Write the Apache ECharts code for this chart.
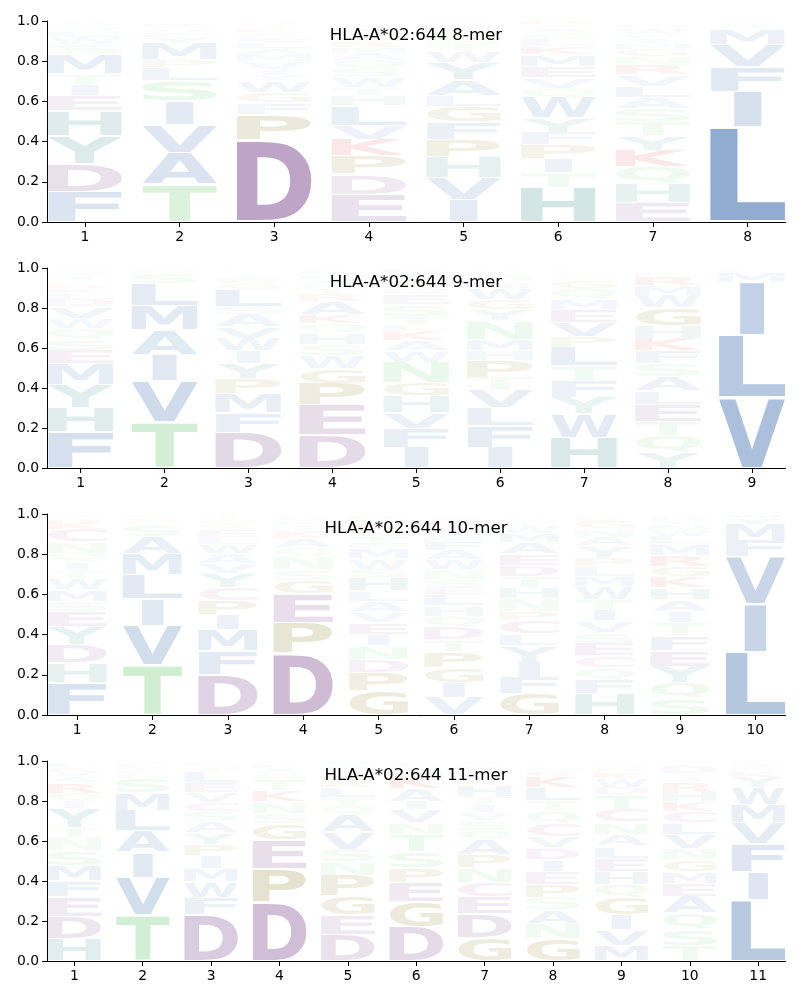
<!DOCTYPE html>
<html>
<head>
<meta charset="utf-8">
<script src="https://cdn.jsdelivr.net/npm/echarts@6/dist/echarts.min.js"></script>
<style>
  html, body { margin: 0; padding: 0; background: #fff; }
  #main { width: 800px; height: 1000px; }
</style>
</head>
<body>
<div id="main"></div>
<script>
// titles of the four panels
var titles = ['HLA-A*02:644 8-mer', 'HLA-A*02:644 9-mer', 'HLA-A*02:644 10-mer', 'HLA-A*02:644 11-mer'];
var yTicks = [0, 0.2, 0.4, 0.6, 0.8, 1.0];

// letter stacks, bottom to top, one list per peptide position
var mer8 = [
  [['F',.152],['D',.138],['Y',.138],['H',.125],['E',.075],['I',.058],['T',.053],['M',.10],['S',.045],['W',.035],['L',.03],['Q',.02],['V',.015],['A',.01],['K',.006]],
  [['T',.187],['A',.158],['V',.14],['I',.117],['S',.104],['L',.064],['P',.038],['M',.08],['Y',.03],['F',.025],['G',.02],['W',.015],['E',.012],['Q',.01]],
  [['D',.407],['P',.128],['F',.057],['G',.052],['W',.058],['Y',.028],['I',.03],['V',.04],['M',.035],['A',.03],['L',.03],['E',.025],['S',.02],['K',.02],['T',.015],['Q',.01],['R',.008],['N',.007]],
  [['E',.137],['D',.10],['P',.092],['K',.082],['V',.07],['L',.10],['H',.05],['T',.04],['W',.05],['S',.04],['Q',.04],['A',.035],['M',.03],['R',.03],['G',.025],['F',.02],['I',.015],['N',.012],['C',.012]],
  [['I',.111],['V',.11],['H',.102],['P',.088],['F',.085],['G',.078],['L',.056],['A',.08],['Y',.083],['W',.055],['T',.035],['S',.03],['Q',.025],['E',.02],['M',.015],['N',.01],['K',.01],['D',.007]],
  [['H',.173],['T',.072],['I',.07],['P',.068],['F',.063],['Y',.072],['W',.102],['Q',.045],['V',.052],['E',.055],['M',.06],['K',.04],['L',.035],['S',.03],['A',.025],['G',.02],['R',.018]],
  [['E',.098],['H',.095],['Q',.082],['K',.082],['Y',.072],['T',.068],['S',.066],['A',.054],['L',.058],['V',.057],['R',.047],['N',.045],['G',.035],['M',.03],['I',.025],['F',.02],['W',.029],['D',.015],['P',.012],['C',.01]],
  [['L',.472],['I',.176],['F',.125],['V',.111],['M',.078],['Y',.02],['W',.01],['A',.008]]
];
var mer9 = [
  [['F',.18],['H',.123],['Y',.115],['M',.102],['E',.068],['S',.055],['Q',.055],['W',.05],['V',.058],['D',.035],['L',.03],['K',.025],['R',.02],['T',.02],['I',.015],['A',.015],['G',.012],['N',.01],['C',.012]],
  [['T',.23],['V',.207],['I',.128],['A',.125],['M',.123],['L',.11],['S',.05],['G',.015],['F',.012]],
  [['D',.177],['F',.10],['M',.095],['P',.075],['Y',.077],['I',.062],['W',.063],['V',.058],['A',.062],['S',.037],['L',.087],['G',.03],['E',.025],['T',.02],['K',.01],['Q',.012],['N',.01]],
  [['D',.165],['E',.148],['P',.11],['G',.075],['W',.063],['S',.057],['H',.055],['Q',.048],['K',.045],['A',.065],['R',.035],['T',.03],['N',.025],['V',.02],['L',.02],['M',.015],['F',.012],['I',.012]],
  [['I',.102],['F',.095],['V',.08],['H',.082],['G',.065],['N',.105],['W',.057],['A',.05],['K',.05],['L',.032],['T',.04],['S',.06],['E',.05],['Q',.035],['R',.03],['M',.025],['Y',.02],['D',.015],['P',.007]],
  [['I',.103],['F',.107],['L',.09],['V',.09],['T',.063],['P',.082],['H',.052],['M',.057],['N',.092],['Y',.056],['G',.052],['W',.055],['E',.03],['Q',.025],['S',.02],['A',.01],['R',.008],['K',.008]],
  [['H',.153],['W',.118],['Y',.083],['F',.084],['T',.072],['L',.097],['P',.048],['V',.07],['E',.067],['M',.05],['Q',.055],['G',.04],['S',.02],['A',.015],['D',.01],['K',.008],['R',.005],['N',.005]],
  [['Y',.08],['Q',.083],['T',.07],['E',.085],['L',.066],['A',.073],['S',.065],['F',.063],['K',.063],['H',.063],['G',.09],['W',.063],['M',.05],['R',.045],['P',.02],['V',.012],['N',.01]],
  [['V',.355],['L',.31],['I',.262],['M',.053],['F',.012],['Y',.008]]
];
var mer10 = [
  [['F',.16],['H',.10],['D',.09],['Y',.088],['E',.075],['S',.052],['M',.06],['W',.055],['T',.04],['I',.04],['Q',.045],['N',.055],['C',.065],['K',.035],['R',.02],['G',.01],['A',.01]],
  [['T',.248],['V',.195],['I',.133],['L',.123],['M',.103],['A',.086],['S',.06],['G',.02],['F',.012],['Y',.01],['E',.01]],
  [['D',.20],['F',.118],['M',.106],['I',.076],['P',.07],['C',.065],['Y',.07],['V',.05],['A',.05],['W',.045],['L',.035],['E',.035],['S',.03],['G',.025],['T',.015],['K',.01]],
  [['D',.306],['P',.155],['E',.143],['G',.066],['S',.052],['N',.062],['Q',.047],['A',.046],['K',.035],['T',.03],['H',.02],['V',.015],['L',.01],['R',.008],['M',.005]],
  [['G',.12],['P',.092],['D',.066],['N',.065],['I',.058],['E',.06],['V',.052],['A',.053],['L',.052],['H',.065],['S',.042],['W',.053],['M',.048],['F',.03],['T',.03],['Q',.035],['K',.03],['Y',.02],['R',.015],['C',.014]],
  [['V',.087],['I',.075],['G',.075],['P',.078],['T',.058],['D',.063],['Q',.055],['H',.053],['L',.057],['E',.035],['S',.04],['N',.047],['W',.048],['A',.048],['F',.046],['M',.03],['Y',.025],['K',.02],['R',.02],['C',.02]],
  [['G',.105],['F',.082],['I',.08],['Y',.078],['L',.058],['C',.068],['P',.045],['N',.062],['H',.054],['T',.055],['D',.056],['E',.058],['A',.058],['M',.045],['W',.035],['Q',.02],['S',.015],['K',.01],['R',.008],['V',.008]],
  [['H',.105],['F',.068],['Q',.063],['C',.058],['E',.063],['S',.055],['V',.057],['I',.058],['T',.048],['W',.063],['M',.05],['L',.05],['P',.047],['Y',.057],['A',.043],['N',.04],['G',.035],['K',.02],['R',.012],['D',.008]],
  [['S',.083],['Q',.08],['Y',.08],['E',.078],['F',.072],['T',.067],['I',.055],['A',.057],['H',.06],['K',.057],['G',.05],['R',.055],['M',.057],['L',.035],['W',.03],['N',.03],['V',.02],['D',.015],['C',.01],['P',.009]],
  [['L',.315],['I',.237],['V',.235],['F',.082],['M',.08],['Y',.03],['W',.021]]
];
var mer11 = [
  [['H',.113],['D',.11],['E',.097],['F',.08],['M',.078],['S',.075],['N',.062],['T',.05],['Y',.095],['I',.035],['Q',.043],['R',.053],['A',.03],['V',.028],['K',.02],['L',.015],['G',.01],['W',.006]],
  [['T',.228],['V',.19],['I',.127],['A',.105],['L',.103],['M',.087],['S',.07],['G',.025],['F',.02],['Y',.015],['E',.015],['Q',.015]],
  [['D',.232],['F',.085],['W',.08],['M',.065],['I',.063],['P',.058],['Y',.058],['A',.057],['S',.05],['C',.045],['V',.047],['E',.05],['L',.055],['T',.025],['G',.015],['K',.01],['N',.005]],
  [['D',.295],['P',.168],['E',.145],['G',.08],['S',.05],['N',.06],['K',.055],['T',.055],['Q',.03],['A',.025],['L',.015],['V',.012],['R',.01]],
  [['D',.133],['E',.098],['G',.093],['P',.105],['N',.065],['S',.065],['V',.085],['A',.085],['Q',.045],['T',.045],['L',.05],['R',.032],['K',.03],['I',.025],['M',.02],['H',.015],['Y',.009]],
  [['D',.168],['G',.127],['E',.098],['P',.072],['S',.08],['T',.088],['N',.058],['V',.064],['I',.042],['A',.063],['K',.065],['H',.03],['Q',.02],['L',.015],['R',.01]],
  [['G',.115],['D',.12],['E',.085],['C',.073],['N',.073],['P',.065],['A',.075],['Q',.048],['S',.047],['V',.04],['I',.04],['T',.04],['H',.058],['K',.03],['L',.025],['M',.02],['R',.015],['F',.01],['Y',.01],['W',.011]],
  [['G',.11],['N',.077],['A',.068],['S',.063],['P',.066],['E',.064],['I',.06],['D',.058],['V',.057],['C',.065],['Q',.063],['T',.05],['L',.065],['K',.058],['R',.025],['M',.02],['F',.011],['H',.01],['Y',.01]],
  [['M',.078],['V',.077],['I',.075],['G',.085],['Q',.067],['H',.067],['E',.065],['L',.06],['A',.06],['N',.06],['C',.065],['T',.072],['D',.035],['W',.045],['K',.03],['R',.02],['S',.02],['Y',.01],['F',.009]],
  [['T',.078],['S',.082],['Q',.08],['A',.082],['E',.065],['M',.06],['G',.058],['N',.058],['V',.068],['L',.058],['C',.056],['K',.05],['H',.048],['R',.05],['I',.025],['Y',.02],['D',.035],['F',.01],['W',.01],['P',.007]],
  [['L',.305],['I',.14],['F',.14],['V',.105],['M',.09],['W',.085],['Y',.055],['K',.03],['R',.015],['A',.02],['E',.015]]
];
var logos = [mer8, mer9, mer10, mer11];

var gridTop = [21, 268, 514, 761];
var gridHeight = [201, 200, 201, 200];

// base colour per residue class
var classColor = {
  A: [71,116,176], V: [71,116,176], I: [71,116,176], L: [71,116,176], M: [71,116,176], F: [71,116,176], W: [71,116,176],
  D: [130,80,145], E: [130,80,145],
  S: [101,201,109], T: [101,201,109], N: [101,201,109], Q: [101,201,109],
  H: [56,139,130], Y: [56,139,130],
  G: [134,123,29], P: [134,123,29],
  K: [200,40,30], R: [200,40,30],
  C: [170,80,140]
};

var glyphFont = 'bold 100px "DejaVu Sans"';
var ctx = document.createElement('canvas').getContext('2d');
ctx.font = glyphFont;
ctx.textBaseline = 'middle';
ctx.textAlign = 'left';
var inkCache = {};
function ink(L) {
  if (!inkCache[L]) {
    var m = ctx.measureText(L);
    inkCache[L] = {
      l: -m.actualBoundingBoxLeft,
      t: -m.actualBoundingBoxAscent,
      w: m.actualBoundingBoxLeft + m.actualBoundingBoxRight,
      h: m.actualBoundingBoxAscent + m.actualBoundingBoxDescent
    };
  }
  return inkCache[L];
}
// narrow letters are not stretched wider than an 'E'
var stretchRef = 'E';

function stackLogo(logo) {
  var items = [], letters = [];
  logo.forEach(function (col, i) {
    var y = 0;
    col.forEach(function (c) {
      items.push([i + 1, y, y + c[1], letters.length]);
      letters.push(c);
      y += c[1];
    });
  });
  return { items: items, letters: letters };
}

function makeRender(letters) {
  return function (params, api) {
    var c = letters[api.value(3)];
    var L = c[0], h = c[1];
    var p0 = api.coord([api.value(0) - 0.4, api.value(1)]);
    var p1 = api.coord([api.value(0) + 0.4, api.value(2)]);
    var left = p0[0] + 0.5, right = p1[0] - 0.5;
    var bottom = p0[1], top = p1[1];
    var pad = 0.4 + 0.015 * (bottom - top);
    top += pad; bottom -= pad;
    if (bottom - top < 0.4) return;
    var m = ink(L);
    var boxW = right - left;
    var sx = Math.min(boxW / m.w, boxW / ink(stretchRef).w);
    var gx = left + (boxW - m.w * sx) / 2;
    var col = classColor[L];
    var a = Math.min(1, 1.27 * h);
    return {
      type: 'text',
      silent: true,
      x: gx,
      y: top,
      scaleX: sx,
      scaleY: (bottom - top) / m.h,
      style: {
        text: L,
        font: glyphFont,
        x: -m.l,
        y: -m.t,
        align: 'left',
        verticalAlign: 'middle',
        fill: 'rgba(' + col[0] + ',' + col[1] + ',' + col[2] + ',' + a.toFixed(3) + ')'
      }
    };
  };
}

var grids = [], xAxes = [], yAxes = [], series = [], graphics = [];
logos.forEach(function (logo, i) {
  var n = logo.length;
  var positions = [];
  for (var k = 1; k <= n; k++) positions.push(k);
  grids.push({ left: 47, right: 14.5, top: gridTop[i], height: gridHeight[i] });
  xAxes.push({
    type: 'value', gridIndex: i, min: 0.6, max: n + 0.4,
    axisLine: { show: true, onZero: false, lineStyle: { color: '#000', width: 1 } },
    axisTick: { show: true, length: 5, customValues: positions, lineStyle: { color: '#000' } },
    axisLabel: { customValues: positions, margin: 8.5, color: '#000', fontSize: 13.9, fontFamily: 'DejaVu Sans' },
    splitLine: { show: false }
  });
  yAxes.push({
    type: 'value', gridIndex: i, min: 0, max: 1, interval: 0.2,
    axisLine: { show: true, lineStyle: { color: '#000', width: 1 } },
    axisTick: { show: true, length: 5, lineStyle: { color: '#000' } },
    axisLabel: { margin: 8, color: '#000', fontSize: 13.9, fontFamily: 'DejaVu Sans',
      formatter: function (v) { return v.toFixed(1); } },
    splitLine: { show: false }
  });
  var st = stackLogo(logo);
  series.push({
    type: 'custom', xAxisIndex: i, yAxisIndex: i,
    data: st.items,
    encode: { x: 0, y: [1, 2] },
    renderItem: makeRender(st.letters),
    animation: false
  });
  graphics.push({
    type: 'text', x: 416, y: gridTop[i] + 15, z: 10,
    style: { text: titles[i], font: '16.67px "DejaVu Sans"', fill: '#000', align: 'center', verticalAlign: 'middle' }
  });
});

var myChart = echarts.init(document.getElementById('main'));
myChart.setOption({
  animation: false,
  backgroundColor: '#fff',
  grid: grids,
  xAxis: xAxes,
  yAxis: yAxes,
  series: series,
  graphic: graphics
});
</script>
</body>
</html>
